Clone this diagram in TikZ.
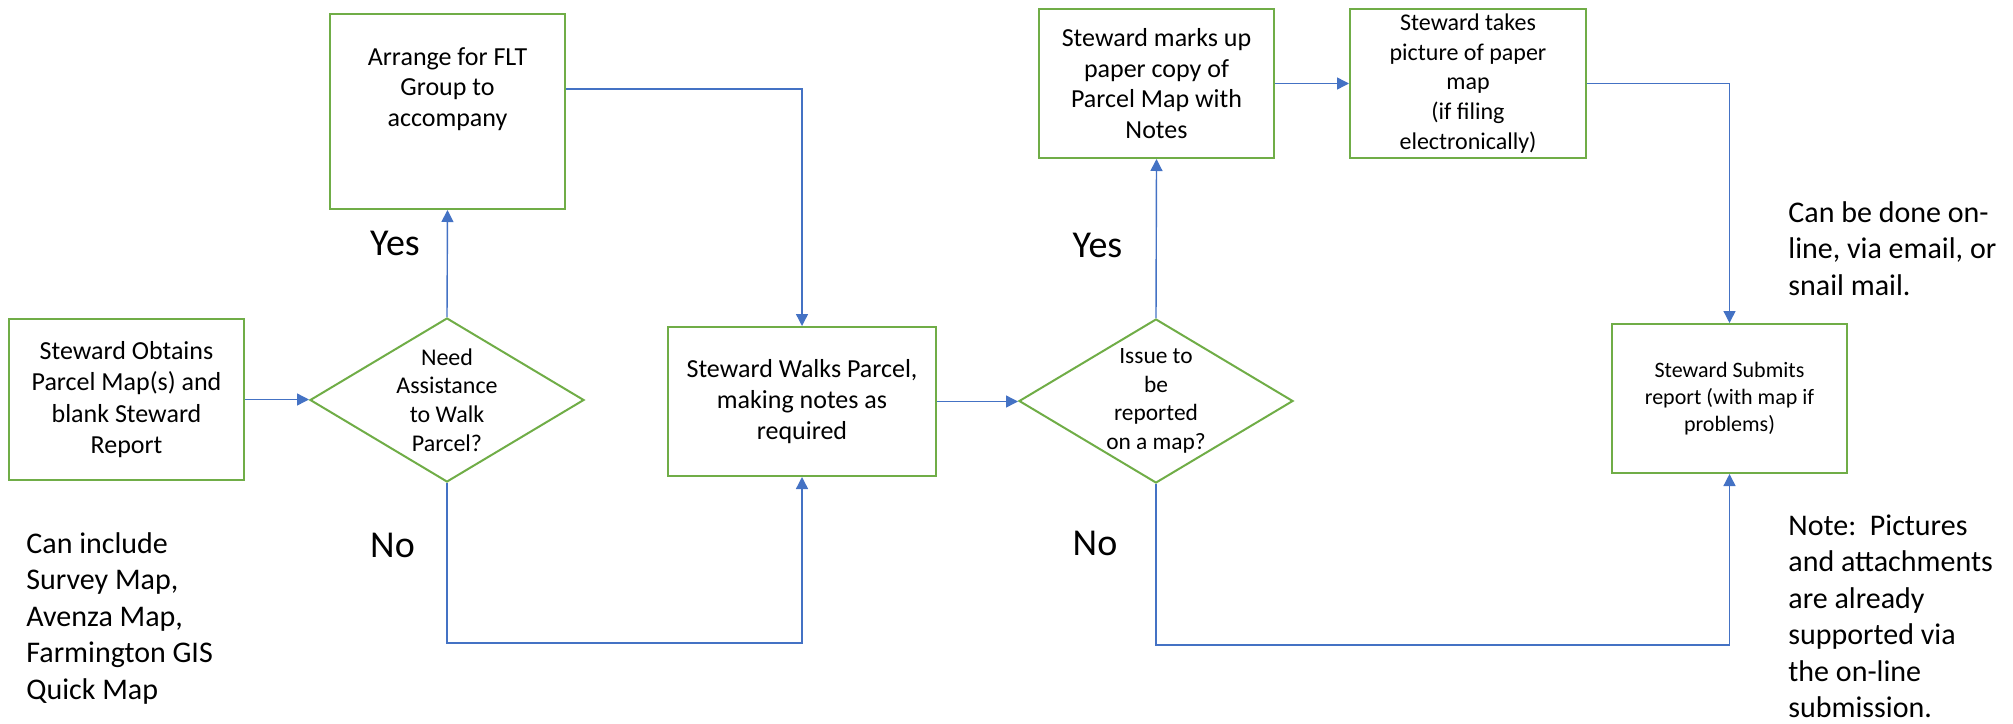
\documentclass[tikz,border=0pt]{standalone}
\usepackage{fontspec}
\setmainfont{Carlito}
\usetikzlibrary{shapes.geometric,arrows.meta}
\definecolor{bgreen}{HTML}{70AD47}
\definecolor{cblue}{HTML}{4472C4}
\begin{document}
\begin{tikzpicture}[x=0.5pt,y=-0.5pt,
  box/.style={draw=bgreen,line width=1pt,rectangle,inner sep=0pt,align=center},
  dia/.style={draw=bgreen,line width=1pt,diamond,inner sep=0pt,minimum width=137pt,minimum height=82pt},
  conn/.style={draw=cblue,line width=0.7pt,-{Triangle[length=6pt,width=6pt]}},
  note/.style={inner sep=0pt,align=left,anchor=north west,font=\fontsize{15}{18.25}\selectfont},
  yn/.style={inner sep=0pt,anchor=base,font=\fontsize{19}{23}\selectfont}]
\useasboundingbox (0,0) rectangle (2013,723);

% boxes
\node[box,minimum width=117.5pt,minimum height=80.5pt,font=\fontsize{13}{15.75}\selectfont] (box1) at (126.5,399.5)
  {Steward Obtains\\Parcel Map(s) and\\blank Steward\\Report};
\node[box,minimum width=117.5pt,minimum height=97.5pt,
  label={[align=center,inner sep=0pt,yshift=11.25pt,font=\fontsize{13}{15.25}\selectfont]center:{Arrange for FLT\\Group to\\accompany}}] (box2) at (447.5,111.5) {};
\node[box,minimum width=134pt,minimum height=74.5pt,font=\fontsize{13}{15.5}\selectfont] (box3) at (802,401.5)
  {Steward Walks Parcel,\\making notes as\\required};
\node[box,minimum width=117.5pt,minimum height=74.5pt,font=\fontsize{13}{15.35}\selectfont] (box4) at (1156.5,83.5)
  {Steward marks up\\paper copy of\\Parcel Map with\\Notes};
\node[box,minimum width=118pt,minimum height=74.5pt,font=\fontsize{12}{14.85}\selectfont] (box5) at (1468,83.5)
  {Steward takes\\picture of paper\\map\\(if filing\\electronically)};
\node[box,minimum width=117.5pt,minimum height=74.5pt,font=\fontsize{11}{13.5}\selectfont] (box6) at (1729.5,398.5)
  {Steward Submits\\report (with map if\\problems)};

% decisions
\node[dia,label={[align=center,inner sep=0pt,font=\fontsize{12}{14.35}\selectfont]center:{Need\\Assistance\\to Walk\\Parcel?}}] (d1) at (447,400) {};
\node[dia,label={[align=center,inner sep=0pt,font=\fontsize{11.7}{14.35}\selectfont]center:{Issue to\\be\\reported\\on a map?}}] (d2) at (1156,401) {};

% connectors
\draw[conn] (box1.east) -- (box1.east -| d1.west);
\draw[conn] (d1.north) -- (box2.south);
\draw[conn] ([yshift=11.25pt]box2.east) -| (box3.north);
\coordinate (low1) at (447,643);
\draw[conn] (d1.south) -- (low1) -| (box3.south);
\draw[conn] (box3.east) -- (box3.east -| d2.west);
\draw[conn] (d2.north) -- (box4.south);
\draw[conn] (box4.east) -- (box5.west);
\draw[conn] (box5.east) -| (box6.north);
\coordinate (low2) at (1156,645);
\draw[conn] (d2.south) -- (low2) -| (box6.south);

% labels
\node[yn] (yes1) at (395,255) {Yes};
\node[yn] (no1) at (392.5,557) {No};
\node[yn] (yes2) at (1097.5,257) {Yes};
\node[yn] (no2) at (1095,555) {No};

% notes
\node[note] (n1) at (26,532) {Can include\\Survey Map,\\Avenza Map,\\Farmington GIS\\Quick Map};
\node[note] (n2) at (1788,201) {Can be done on-\\line, via email, or\\snail mail.};
\node[note] (n3) at (1788,514) {Note:\ \ Pictures\\and attachments\\are already\\supported via\\the on-line\\submission.};
\end{tikzpicture}
\end{document}
